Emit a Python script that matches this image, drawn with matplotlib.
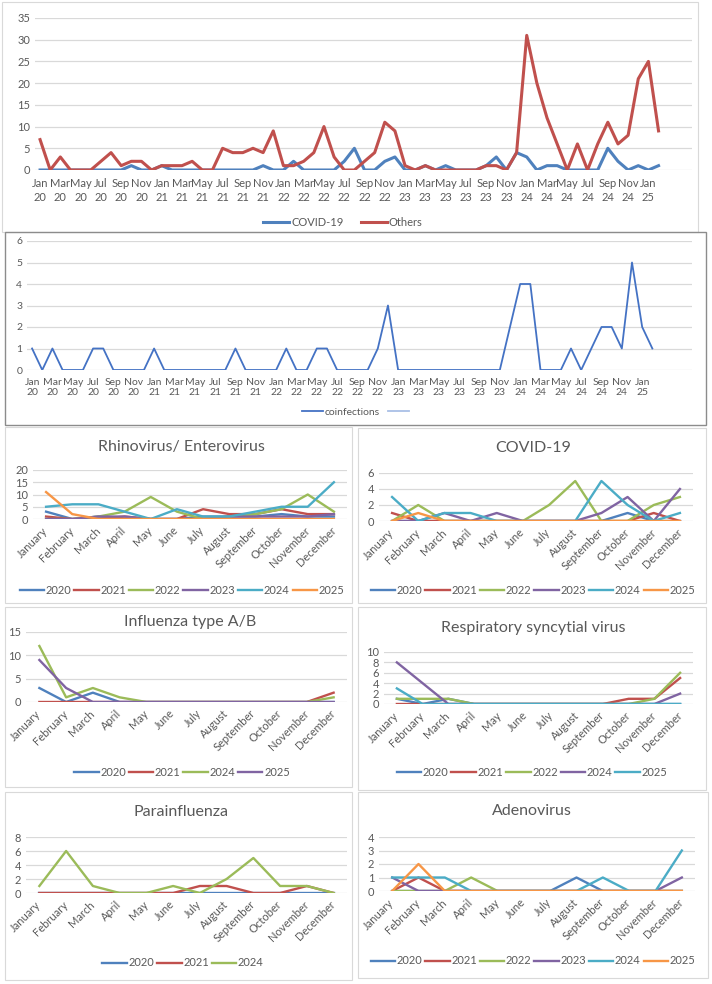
import matplotlib.pyplot as plt
from matplotlib.patches import Rectangle

plt.rcParams['font.family'] = ['Lato', 'DejaVu Sans']

W, H = 712, 984

# --- monthly series, Jan 2020 .. Feb 2025 ---
month_abbr = ['Jan', 'Feb', 'Mar', 'Apr', 'May', 'Jun',
              'Jul', 'Aug', 'Sep', 'Oct', 'Nov', 'Dec']
year_short = ['20', '21', '22', '23', '24', '25']

covid_monthly = [0, 0, 0, 0, 0, 0, 0, 0, 0, 1, 0, 0,
                 1, 0, 0, 0, 0, 0, 0, 0, 0, 0, 1, 0,
                 0, 2, 0, 0, 0, 0, 2, 5, 0, 0, 2, 3,
                 0, 0, 1, 0, 1, 0, 0, 0, 1, 3, 0, 4,
                 3, 0, 1, 1, 0, 0, 0, 0, 5, 2, 0, 1,
                 0, 1]
others_monthly = [7, 0, 3, 0, 0, 0, 2, 4, 1, 2, 2, 0,
                  1, 1, 1, 2, 0, 0, 5, 4, 4, 5, 4, 9,
                  1, 1, 2, 4, 10, 3, 0, 0, 2, 4, 11, 9,
                  1, 0, 1, 0, 0, 0, 0, 0, 1, 1, 0, 4,
                  31, 20, 12, 6, 0, 6, 0, 6, 11, 6, 8, 21,
                  25, 9]
coinfections = [1, 0, 1, 0, 0, 0, 1, 1, 0, 0, 0, 0,
                1, 0, 0, 0, 0, 0, 0, 0, 1, 0, 0, 0,
                0, 1, 0, 0, 1, 1, 0, 0, 0, 0, 1, 3,
                0, 0, 0, 0, 0, 0, 0, 0, 0, 0, 0, 2,
                4, 4, 0, 0, 0, 1, 0, 1, 2, 2, 1, 5,
                2, 1]

# --- per-virus monthly panels ---
months = ['January', 'February', 'March', 'April', 'May', 'June', 'July',
          'August', 'September', 'October', 'November', 'December']

rhino_years = ['2020', '2021', '2022', '2023', '2024', '2025']
rhino_2020 = [3, 0, 1, 0, 0, 0, 1, 1, 1, 2, 1, 1]
rhino_2021 = [1, 0, 0, 1, 0, 0, 4, 2, 2, 4, 2, 2]
rhino_2022 = [0, 0, 1, 3, 9, 3, 0, 1, 2, 4, 10, 3]
rhino_2023 = [0, 0, 1, 1, 0, 0, 0, 1, 1, 1, 1, 2]
rhino_2024 = [5, 6, 6, 3, 0, 4, 1, 1, 3, 5, 5, 15]
rhino_2025 = [11, 2, 0, 0, 0, 0, 0, 0, 0, 0, 0, 0]

covid_years = ['2020', '2021', '2022', '2023', '2024', '2025']
covid_2020 = [0, 0, 0, 0, 0, 0, 0, 0, 0, 1, 0, 0]
covid_2021 = [1, 0, 0, 0, 0, 0, 0, 0, 0, 0, 1, 0]
covid_2022 = [0, 2, 0, 0, 0, 0, 2, 5, 0, 0, 2, 3]
covid_2023 = [0, 0, 1, 0, 1, 0, 0, 0, 1, 3, 0, 4]
covid_2024 = [3, 0, 1, 1, 0, 0, 0, 0, 5, 2, 0, 1]
covid_2025 = [0, 1, 0, 0, 0, 0, 0, 0, 0, 0, 0, 0]

flu_years = ['2020', '2021', '2024', '2025']
flu_2020 = [3, 0, 2, 0, 0, 0, 0, 0, 0, 0, 0, 0]
flu_2021 = [0, 0, 0, 0, 0, 0, 0, 0, 0, 0, 0, 2]
flu_2024 = [12, 1, 3, 1, 0, 0, 0, 0, 0, 0, 0, 1]
flu_2025 = [9, 3, 0, 0, 0, 0, 0, 0, 0, 0, 0, 0]

rsv_years = ['2020', '2021', '2022', '2024', '2025']
rsv_2020 = [1, 0, 1, 0, 0, 0, 0, 0, 0, 0, 0, 0]
rsv_2021 = [0, 0, 0, 0, 0, 0, 0, 0, 0, 1, 1, 5]
rsv_2022 = [1, 1, 1, 0, 0, 0, 0, 0, 0, 0, 1, 6]
rsv_2024 = [8, 4, 0, 0, 0, 0, 0, 0, 0, 0, 0, 2]
rsv_2025 = [3, 0, 0, 0, 0, 0, 0, 0, 0, 0, 0, 0]

para_years = ['2020', '2021', '2024']
para_2020 = [0, 0, 0, 0, 0, 0, 0, 0, 0, 0, 0, 0]
para_2021 = [0, 0, 0, 0, 0, 0, 1, 1, 0, 0, 1, 0]
para_2024 = [1, 6, 1, 0, 0, 1, 0, 2, 5, 1, 1, 0]

adeno_years = ['2020', '2021', '2022', '2023', '2024', '2025']
adeno_2020 = [0, 0, 0, 0, 0, 0, 0, 1, 0, 0, 0, 0]
adeno_2021 = [0, 1, 0, 0, 0, 0, 0, 0, 0, 0, 0, 0]
adeno_2022 = [0, 0, 0, 1, 0, 0, 0, 0, 0, 0, 0, 0]
adeno_2023 = [1, 0, 0, 0, 0, 0, 0, 0, 0, 0, 0, 1]
adeno_2024 = [1, 1, 1, 0, 0, 0, 0, 0, 1, 0, 0, 3]
adeno_2025 = [0, 2, 0, 0, 0, 0, 0, 0, 0, 0, 0, 0]

palette = ['#4F81BD', '#C0504D', '#9BBB59', '#8064A2', '#4BACC6', '#F79646']
GRID = '#D9D9D9'
TXT = '#595959'


def px_axes(fig, left, top, right, bottom):
    return fig.add_axes([left / W, 1 - bottom / H, (right - left) / W, (bottom - top) / H])


def px_box(fig, left, top, right, bottom, color, lw):
    fig.add_artist(Rectangle((left / W, 1 - bottom / H), (right - left) / W, (bottom - top) / H,
                             transform=fig.transFigure, fill=False, edgecolor=color, linewidth=lw))


def style_axes(ax, ymax, ystep, fs=8):
    ax.set_ylim(0, ymax)
    ax.set_yticks(range(0, ymax + 1, ystep))
    ax.grid(axis='y', color=GRID, linewidth=0.9)
    ax.set_axisbelow(True)
    for s in ax.spines.values():
        s.set_visible(False)
    ax.tick_params(length=0, colors=TXT, labelsize=fs)


def month_ticks(n):
    labels = []
    for i in range(n):
        labels.append(f"{month_abbr[i % 12]}\n{year_short[i // 12]}")
    return list(range(0, n, 2)), labels[::2]


def draw_panel(fig, box, plot, title, title_xy, years, series, ymax, ystep, leg_xy):
    px_box(fig, *box, color='#D9D9D9', lw=0.8)
    ax = px_axes(fig, *plot)
    x = range(len(months))
    for i, (yr, vals) in enumerate(zip(years, series)):
        ax.plot(x, vals, color=palette[i], linewidth=1.7, label=yr)
    ax.set_xlim(-0.5, 11.5)
    style_axes(ax, ymax, ystep)
    ax.set_xticks(list(x))
    ax.set_xticklabels(months, rotation=45, ha='right', va='center',
                       rotation_mode='anchor', fontsize=8)
    ax.tick_params(axis='x', pad=7)
    fig.text(title_xy[0] / W, 1 - title_xy[1] / H, title, ha='center', va='center',
             fontsize=11.5, color=TXT)
    fig.legend(*ax.get_legend_handles_labels(), loc='center',
               bbox_to_anchor=(leg_xy[0] / W, 1 - leg_xy[1] / H), ncol=len(years),
               frameon=False, fontsize=8, handlelength=2.2, handletextpad=0.15,
               columnspacing=0.25, labelcolor=TXT)
    return ax


fig = plt.figure(figsize=(W / 100, H / 100), dpi=100)

# --- top chart: COVID-19 vs Others ---
px_box(fig, 2, 2, 698, 232, color='#D9D9D9', lw=0.8)
ax1 = px_axes(fig, 35, 18, 692, 170)
n = len(others_monthly)
ax1.plot(range(n), covid_monthly, color='#4F81BD', linewidth=2.2, label='COVID-19')
ax1.plot(range(n), others_monthly, color='#C0504D', linewidth=2.2, label='Others')
ax1.set_xlim(-0.5, 64.3)
style_axes(ax1, 35, 5)
pos, labs = month_ticks(n)
ax1.set_xticks(pos)
ax1.set_xticklabels(labs, fontsize=8, linespacing=1.25)
ax1.tick_params(axis='x', pad=6)
fig.legend(*ax1.get_legend_handles_labels(), loc='center',
           bbox_to_anchor=(343 / W, 1 - 222 / H), ncol=2, frameon=False, fontsize=8,
           handlelength=2.3, handletextpad=0.2, columnspacing=1.6, labelcolor=TXT)

# --- coinfections chart ---
px_box(fig, 5, 232, 706, 425, color='#8C8C8C', lw=1.0)
ax2 = px_axes(fig, 27, 241, 692, 370)
ax2.plot(range(len(coinfections)), coinfections, color='#4472C4', linewidth=1.3,
         label='coinfections')
ax2.plot([], [], color='#A9BFE6', linewidth=1.3, label=' ')
ax2.set_xlim(-0.5, 64.9)
style_axes(ax2, 6, 1, fs=7.5)
pos, labs = month_ticks(len(coinfections))
ax2.set_xticks(pos)
ax2.set_xticklabels(labs, fontsize=7.5, linespacing=1.05)
ax2.tick_params(axis='x', pad=6)
fig.legend(*ax2.get_legend_handles_labels(), loc='center',
           bbox_to_anchor=(358 / W, 1 - 412 / H), ncol=2, frameon=False, fontsize=7.5,
           handlelength=2.0, handletextpad=0.2, columnspacing=0.8, labelcolor=TXT)

# --- six virus panels ---
draw_panel(fig, (5, 427, 352, 603), (33, 470, 347, 519), 'Rhinovirus/ Enterovirus', (181, 447),
           rhino_years, [rhino_2020, rhino_2021, rhino_2022, rhino_2023, rhino_2024, rhino_2025],
           20, 5, (182, 590))
draw_panel(fig, (358, 428, 706, 603), (379, 473, 693, 521), 'COVID-19', (533, 448),
           covid_years, [covid_2020, covid_2021, covid_2022, covid_2023, covid_2024, covid_2025],
           6, 2, (533, 590))
draw_panel(fig, (5, 607, 352, 787), (26, 632, 347, 702), 'Influenza type A/B', (190, 622),
           flu_years, [flu_2020, flu_2021, flu_2024, flu_2025],
           15, 5, (182, 772))
draw_panel(fig, (358, 607, 706, 790), (384, 652, 693, 704), 'Respiratory syncytial virus', (533, 628),
           rsv_years, [rsv_2020, rsv_2021, rsv_2022, rsv_2024, rsv_2025],
           10, 2, (532, 772))
draw_panel(fig, (5, 792, 352, 980), (26, 837, 347, 893), 'Parainfluenza', (181, 812),
           para_years, [para_2020, para_2021, para_2024],
           8, 2, (183, 963))
draw_panel(fig, (358, 792, 708, 978), (379, 837, 695, 891), 'Adenovirus', (532, 811),
           adeno_years, [adeno_2020, adeno_2021, adeno_2022, adeno_2023, adeno_2024, adeno_2025],
           4, 1, (533, 961))

fig.savefig('out.png', dpi=100)
